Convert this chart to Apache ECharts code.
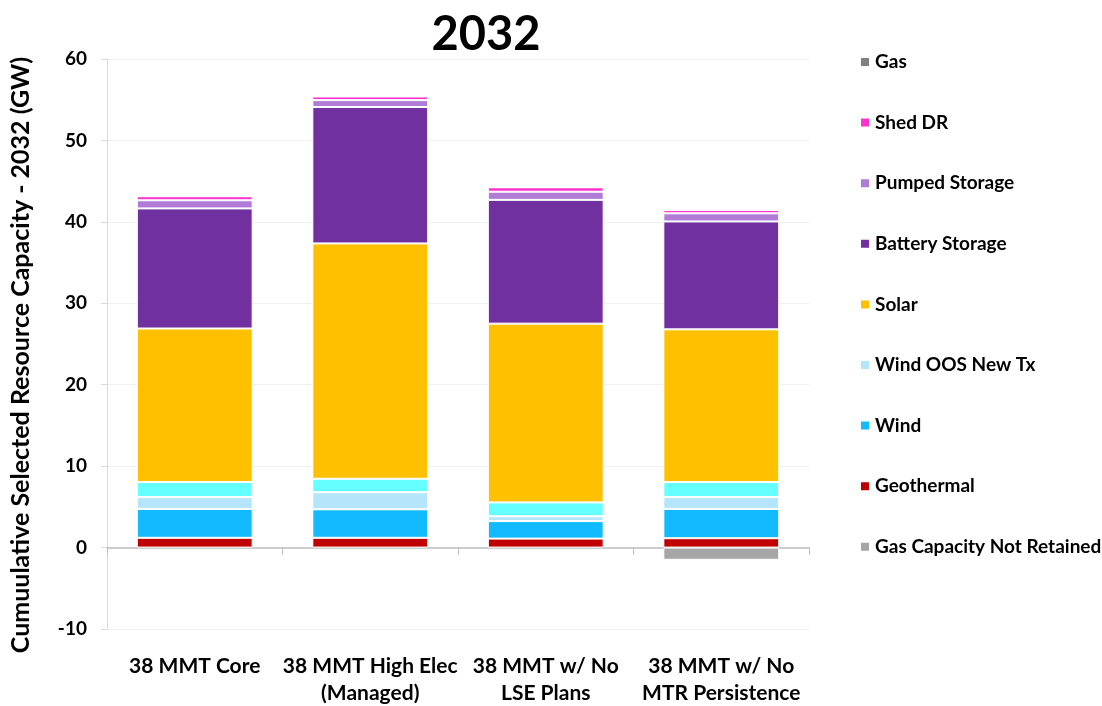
<!DOCTYPE html>
<html>
<head>
<meta charset="utf-8">
<script src="https://cdn.jsdelivr.net/npm/echarts@6/dist/echarts.min.js"></script>
<style>
html,body{margin:0;padding:0;background:#fff;}
#chart{width:1102px;height:706px;}
</style>
</head>
<body>
<div id="chart"></div>
<script>
var categories = ['38 MMT Core', '38 MMT High Elec\n(Managed)', '38 MMT w/ No\nLSE Plans', '38 MMT w/ No\nMTR Persistence'];
var yTicks = [-10, 0, 10, 20, 30, 40, 50, 60];

var geothermal = [1.2, 1.2, 1.1, 1.15];
var wind = [3.55, 3.5, 2.15, 3.6];
var windOOSNewTx = [1.45, 2.1, 0.6, 1.45];
var windOther = [1.85, 1.65, 1.7, 1.85];
var solar = [18.85, 28.9, 21.95, 18.75];
var battery = [14.75, 16.75, 15.2, 13.25];
var pumped = [1.0, 0.85, 1.0, 1.0];
var shedDR = [0.5, 0.45, 0.55, 0.4];
var gas = [0, 0, 0, 0];
var gasNotRetained = [0, 0, 0, -1.5];

var FONT = 'Lato';
var seriesDefs = [
  ['Geothermal', geothermal, '#C00000'],
  ['Wind', wind, '#12BAFF'],
  ['Wind OOS New Tx', windOOSNewTx, '#B4E5FA'],
  ['Wind Other', windOther, '#66FFFF'],
  ['Solar', solar, '#FFC000'],
  ['Battery Storage', battery, '#7030A0'],
  ['Pumped Storage', pumped, '#B07CD8'],
  ['Shed DR', shedDR, '#FF33CC'],
  ['Gas', gas, '#808080'],
  ['Gas Capacity Not Retained', gasNotRetained, '#A6A6A6']
];

var series = seriesDefs.map(function (d) {
  return {
    name: d[0],
    type: 'bar',
    stack: 'total',
    data: d[1],
    barWidth: '66%',
    itemStyle: { color: d[2], borderColor: '#ffffff', borderWidth: 1 },
    emphasis: { disabled: true }
  };
});

var chart = echarts.init(document.getElementById('chart'));
chart.setOption({
  animation: false,
  backgroundColor: '#ffffff',
  title: {
    text: '2032',
    left: 481,
    top: 6,
    textAlign: 'center',
    textStyle: { fontFamily: FONT, fontWeight: 'bold', fontSize: 47, color: '#000' }
  },
  legend: {
    orient: 'vertical',
    left: 854,
    top: 47,
    itemWidth: 10,
    itemHeight: 10,
    itemGap: 40.6,
    icon: 'rect',
    data: ['Gas', 'Shed DR', 'Pumped Storage', 'Battery Storage', 'Solar', 'Wind OOS New Tx', 'Wind', 'Geothermal', 'Gas Capacity Not Retained'],
    textStyle: { fontFamily: FONT, fontWeight: 'bold', fontSize: 19, color: '#000', lineHeight: 20, padding: [0, 0, 0, 0] },
    selectedMode: false
  },
  grid: { left: 107, right: 293, top: 59, bottom: 77, containLabel: false, outerBoundsMode: 'none' },
  xAxis: [{
    type: 'category',
    data: categories,
    position: 'bottom',
    axisLine: { show: false, onZero: false },
    axisTick: { show: false },
    axisLabel: { interval: 0, fontFamily: FONT, fontWeight: 'bold', fontSize: 21, color: '#000', margin: 24, lineHeight: 27 }
  }, {
    type: 'category',
    data: categories,
    position: 'bottom',
    axisLine: { show: true, onZero: true, lineStyle: { color: '#BFBFBF', width: 1.5 } },
    axisTick: { show: true, length: 7, lineStyle: { color: '#BFBFBF' } },
    axisLabel: { show: false }
  }],
  yAxis: {
    type: 'value',
    min: -10,
    max: 60,
    interval: 10,
    name: 'Cumuulative Selected Resource Capacity - 2032 (GW)',
    nameLocation: 'middle',
    nameGap: 74,
    nameTextStyle: { fontFamily: FONT, fontWeight: 'bold', fontSize: 25, color: '#000', padding: [0, 22, 0, 0] },
    axisLine: { show: true, lineStyle: { color: '#D9D9D9' } },
    axisTick: { show: true, length: 6, lineStyle: { color: '#D9D9D9' } },
    axisLabel: { fontFamily: FONT, fontWeight: 'bold', fontSize: 19, color: '#000', margin: 20 },
    splitLine: { show: true, lineStyle: { color: '#F0F0F0' } }
  },
  series: series
});
</script>
</body>
</html>
